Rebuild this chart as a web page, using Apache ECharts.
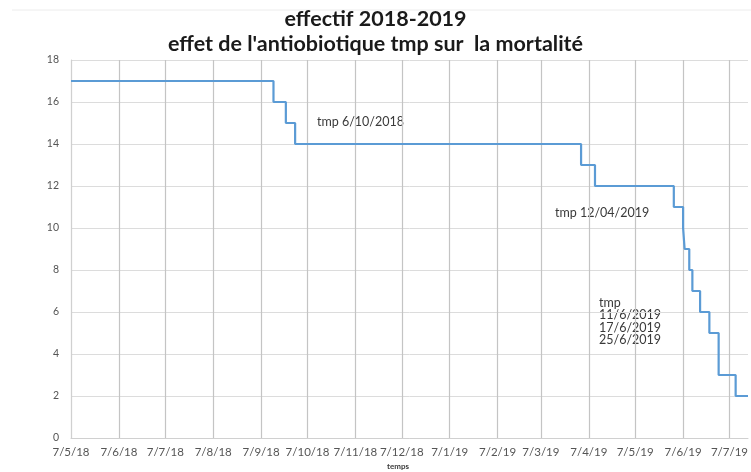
<!DOCTYPE html>
<html><head><meta charset="utf-8">
<script src="https://cdn.jsdelivr.net/npm/echarts@6/dist/echarts.min.js"></script>
<style>html,body{margin:0;padding:0;background:#fff}#c{width:751px;height:472px}</style>
</head><body><div id="c"></div>
<script>
// Step-change dates (d = day the count changes) and the count from that date
const stepDates = ['2018-05-07','2018-09-15','2018-09-23','2018-09-29','2019-04-02','2019-04-11','2019-06-01','2019-06-07','2019-06-08','2019-06-11','2019-06-13','2019-06-18','2019-06-24','2019-06-30','2019-07-11','2019-07-19'];
const effectif  = [17,16,15,14,13,12,11,10,9,8,7,6,5,3,2,2];
// x-axis tick dates (7th of every month)
const tickDates = ['2018-05-07','2018-06-07','2018-07-07','2018-08-07','2018-09-07','2018-10-07','2018-11-07','2018-12-07','2019-01-07','2019-02-07','2019-03-07','2019-04-07','2019-05-07','2019-06-07','2019-07-07'];
const axisStart = '2018-05-07';
const axisEnd = '2019-07-19';
const yMin = 0, yMax = 18, yStep = 2;
const titleLines = ['effectif 2018-2019', "effet de l'antiobiotique tmp sur  la mortalité"];
const xName = 'temps';
const notes = ['tmp 6/10/2018', 'tmp 12/04/2019', 'tmp\n11/6/2019\n17/6/2019\n25/6/2019'];

function ts(s){ const p = s.split('-').map(Number); return Date.UTC(p[0], p[1]-1, p[2]); }
function fmt(v){ const d = new Date(v); return d.getUTCDate() + '/' + (d.getUTCMonth()+1) + '/' + String(d.getUTCFullYear()).slice(2); }

const chart = echarts.init(document.getElementById('c'), null, {renderer:'canvas'});
const font = 'Lato, "Open Sans", sans-serif';
const ticks = tickDates.map(ts);
chart.setOption({
  animation: false,
  backgroundColor: '#fff',
  title: {
    text: titleLines.join('\n'), left: 'center', top: 7, padding: 0,
    textStyle: { fontFamily: font, fontWeight: 'bold', fontSize: 21.5, lineHeight: 25, color: '#1a1a1a' }
  },
  grid: { left: 71, right: 0, top: 60, bottom: 34 },
  xAxis: {
    type: 'value', min: ts(axisStart), max: ts(axisEnd), scale: true,
    axisLine: { show: true, onZero: false, lineStyle: { color: '#d0d0d0', width: 1 } },
    axisTick: { show: false, customValues: ticks },
    axisLabel: { customValues: ticks, formatter: fmt, fontFamily: font, fontSize: 11.5, color: '#555', margin: 8, hideOverlap: false, showMinLabel: true, showMaxLabel: true },
    splitLine: { show: true, lineStyle: { color: '#c4c4c4', width: 1.2 } }
  },
  yAxis: {
    type: 'value', min: yMin, max: yMax, interval: yStep,
    axisLine: { show: true, lineStyle: { color: '#d0d0d0', width: 1 } },
    axisTick: { show: false },
    axisLabel: { fontFamily: font, fontSize: 10.5, color: '#555', margin: 12 },
    splitLine: { show: true, lineStyle: { color: '#dcdcdc', width: 1 } }
  },
  series: [{
    type: 'line', step: 'end', showSymbol: false,
    data: stepDates.map((d, i) => [ts(d), effectif[i]]),
    lineStyle: { color: '#5b9bd5', width: 2.2 }
  }],
  graphic: [
    { type: 'line', shape: { x1: 12, y1: 10, x2: 751, y2: 10 }, style: { stroke: '#ececec', lineWidth: 1 } },
    { type: 'text', x: 317, y: 122, style: { text: notes[0], font: '12.5px ' + font, fill: '#3a3a3a', verticalAlign: 'middle' } },
    { type: 'text', x: 555, y: 213, style: { text: notes[1], font: '12.5px ' + font, fill: '#3a3a3a', verticalAlign: 'middle' } },
    { type: 'text', x: 599, y: 297, style: { text: notes[2], font: '12.5px ' + font, lineHeight: 12.3, fill: '#3a3a3a', verticalAlign: 'top' } },
    { type: 'text', x: 398, y: 466, style: { text: xName, font: 'bold 8px ' + font, fill: '#3a3a3a', align: 'center', verticalAlign: 'middle' } }
  ]
});
</script>
</body></html>
